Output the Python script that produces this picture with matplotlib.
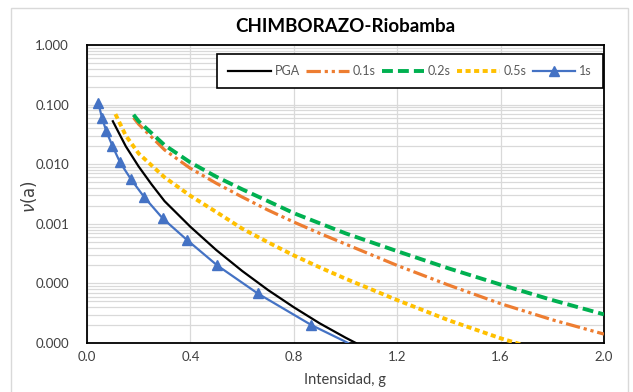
import matplotlib
matplotlib.use("Agg")
import matplotlib.pyplot as plt
from matplotlib.patches import Rectangle
from matplotlib.ticker import FixedLocator, LogLocator, NullFormatter

# ---------------- data ----------------
title = "CHIMBORAZO-Riobamba"
xlabel = "Intensidad, g"
ylabel = r"$\nu$(a)"

x_pga = [0.10, 0.15, 0.20, 0.25, 0.30, 0.40, 0.50, 0.60, 0.70, 0.80, 0.90, 1.00, 1.04]
y_pga = [0.0525, 0.0200, 0.00912, 0.00457, 0.00240, 8.91e-4, 3.63e-4, 1.62e-4,
         7.76e-5, 3.98e-5, 2.14e-5, 1.23e-5, 1.0e-5]

x_01 = [0.18, 0.20, 0.30, 0.40, 0.50, 0.60, 0.70, 0.80, 0.90, 1.00, 1.20, 1.40, 1.60, 1.80, 2.00]
y_01 = [0.0603, 0.0468, 0.0174, 0.00851, 0.00479, 0.00282, 0.00170, 0.00107,
        6.92e-4, 4.57e-4, 2.00e-4, 9.33e-5, 4.57e-5, 2.45e-5, 1.41e-5]

x_02 = [0.18, 0.20, 0.30, 0.40, 0.50, 0.60, 0.70, 0.80, 0.90, 1.00, 1.20, 1.40, 1.60, 1.80, 2.00]
y_02 = [0.0676, 0.0525, 0.0209, 0.0107, 0.00617, 0.00380, 0.00240, 0.00151,
        0.00102, 6.92e-4, 3.47e-4, 1.78e-4, 9.55e-5, 5.25e-5, 3.02e-5]

x_05 = [0.11, 0.15, 0.20, 0.30, 0.40, 0.50, 0.60, 0.70, 0.80, 0.90, 1.00, 1.20, 1.40, 1.60, 1.70]
y_05 = [0.0692, 0.0302, 0.0151, 0.00603, 0.00295, 0.00158, 8.32e-4, 4.90e-4,
        2.95e-4, 1.86e-4, 1.20e-4, 5.25e-5, 2.40e-5, 1.20e-5, 8.9e-6]

x_1 = [0.044, 0.058, 0.075, 0.098, 0.128, 0.170, 0.222, 0.293, 0.386, 0.504, 0.660, 0.868, 1.01]
y_1 = [0.105, 0.060, 0.0355, 0.0204, 0.0107, 0.0056, 0.00278, 0.00123,
       5.4e-4, 2.0e-4, 6.8e-5, 2.0e-5, 1.0e-5]

series_labels = ["PGA", "0.1s", "0.2s", "0.5s", "1s"]
x_ticks = [0.0, 0.4, 0.8, 1.2, 1.6, 2.0]
y_ticks = [1e-5, 1e-4, 1e-3, 1e-2, 1e-1, 1.0]

# ---------------- figure ----------------
W, H = 633, 392
fig = plt.figure(figsize=(W / 100, H / 100), dpi=100)
fig.patch.set_facecolor("white")

# outer chart border
fig.patches.append(Rectangle((11 / W, 1 - 400 / H), (628 - 11) / W, (400 - 8) / H,
                             transform=fig.transFigure, fill=False,
                             edgecolor="#d9d9d9", lw=1.0))

L, R, T, B = 87, 604, 45, 343
ax = fig.add_axes([L / W, 1 - B / H, (R - L) / W, (B - T) / H])

font = "Lato"
tick_color = "#404040"

ax.set_yscale("log")
ax.set_xlim(0, 2.0)
ax.set_ylim(1e-5, 1.0)

ax.plot(x_pga, y_pga, color="black", lw=1.6, label=series_labels[0], zorder=3)
ax.plot(x_01, y_01, color="#ED7D31", lw=2.3, dashes=(4.5, 1.2, 1, 1.2, 1, 1.2),
        label=series_labels[1], zorder=3)
ax.plot(x_02, y_02, color="#00B050", lw=2.8, dashes=(2.8, 1.3),
        label=series_labels[2], zorder=3)
ax.plot(x_05, y_05, color="#FFC000", lw=2.8, dashes=(1.3, 0.9),
        label=series_labels[3], zorder=3)
ax.plot(x_1, y_1, color="#4472C4", lw=1.6, marker="^", markersize=7,
        markevery=list(range(len(x_1) - 1)), label=series_labels[4], zorder=4)

# grid
ax.xaxis.set_major_locator(FixedLocator(x_ticks))
ax.yaxis.set_major_locator(FixedLocator(y_ticks))
ax.yaxis.set_minor_locator(LogLocator(base=10, subs=range(2, 10)))
ax.yaxis.set_minor_formatter(NullFormatter())
ax.grid(True, which="major", axis="both", color="#d9d9d9", lw=0.9, zorder=0)
ax.grid(True, which="minor", axis="y", color="#d9d9d9", lw=0.9, zorder=0)
ax.set_axisbelow(True)

ax.set_xticklabels([f"{v:.1f}" for v in x_ticks])
ax.set_yticklabels([f"{v:.3f}" for v in y_ticks])
ax.tick_params(axis="both", which="both", length=0)
ax.tick_params(axis="y", pad=13)
ax.tick_params(axis="x", pad=6)
for lab in ax.get_xticklabels() + ax.get_yticklabels():
    lab.set_fontfamily(font)
    lab.set_fontsize(9.5)
    lab.set_color(tick_color)

for s in ax.spines.values():
    s.set_color("black")
    s.set_linewidth(1.3)

# title and labels
fig.text((L + R) / 2 / W, 1 - 26 / H, title, ha="center", va="center",
         fontsize=13.5, fontweight="bold", fontfamily=font, color="black")
fig.text((L + R) / 2 / W, 1 - 380 / H, xlabel, ha="center", va="center",
         fontsize=10.5, fontfamily=font, color=tick_color)
fig.text(29 / W, 1 - 196 / H, ylabel, ha="center", va="center", rotation=90,
         fontsize=12, color=tick_color)

# legend
lx0, lx1, ly0, ly1 = 217, 603, 52, 90
leg = ax.legend(loc="center", bbox_to_anchor=(lx0 / W, 1 - ly1 / H, (lx1 - lx0) / W, (ly1 - ly0) / H),
                bbox_transform=fig.transFigure, mode="expand", ncol=5, frameon=True,
                fancybox=False, handlelength=3.4, handletextpad=0.3, columnspacing=0.8,
                borderaxespad=0, borderpad=0.9, numpoints=1,
                prop={"family": font, "size": 9})
leg.get_frame().set_edgecolor("black")
leg.get_frame().set_linewidth(1.2)
leg.get_frame().set_facecolor("white")
leg.get_frame().set_alpha(1)
for t in leg.get_texts():
    t.set_color("#595959")

fig.savefig("out.png", dpi=100, facecolor="white")
